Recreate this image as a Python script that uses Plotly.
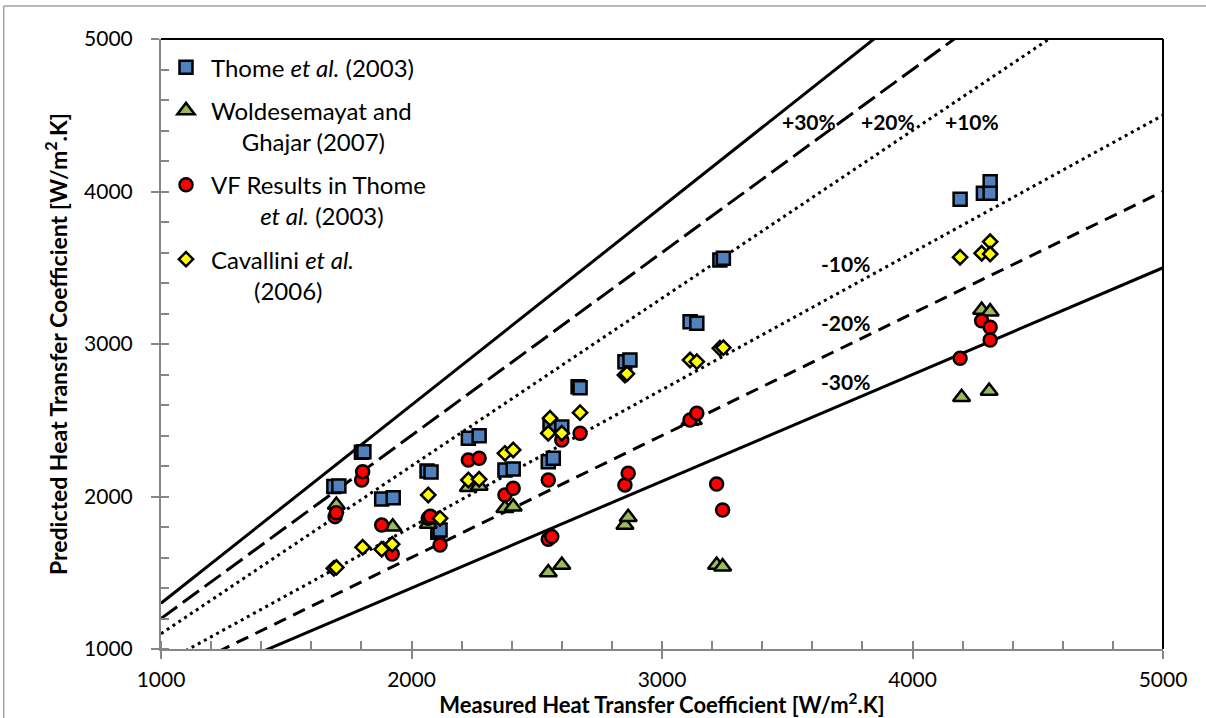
import plotly.graph_objects as go

# Measured vs predicted heat transfer coefficient [W/m2.K]
thome_x = [1690, 1710, 1800, 1810, 1881, 1927, 2062, 2078, 2105, 2114, 2227, 2270,
           2373, 2406, 2546, 2566, 2553, 2600, 2665, 2673, 2852, 2872, 3112, 3139,
           3231, 3245, 4190, 4283, 4310, 4310]
thome_y = [2065, 2069, 2290, 2294, 1984, 1992, 2167, 2160, 1765, 1780, 2382, 2399,
           2174, 2180, 2228, 2251, 2455, 2455, 2720, 2713, 2884, 2895, 3146, 3136,
           3551, 3562, 3949, 3988, 4064, 3988]

wolde_x = [1700, 1925, 2067, 2227, 2270, 2373, 2406, 2546, 2600, 2852, 2865, 3112,
           3125, 3218, 3242, 4196, 4276, 4306, 4310]
wolde_y = [1944, 1802, 1820, 2061, 2069, 1923, 1933, 1501, 1551, 1813, 1864, 2495,
           2500, 1551, 1540, 2651, 3223, 2692, 3212]

vf_x = [1695, 1700, 1801, 1805, 1881, 1923, 2067, 2075, 2114, 2227, 2270, 2373,
        2406, 2546, 2600, 2546, 2560, 2673, 2852, 2865, 3112, 3139, 3218, 3242,
        4190, 4276, 4310, 4310]
vf_y = [1868, 1894, 2108, 2163, 1813, 1623, 1857, 1870, 1682, 2240, 2251, 2010,
        2054, 2108, 2371, 1719, 1737, 2415, 2076, 2152, 2502, 2546, 2082, 1912,
        2906, 3153, 3110, 3026]

cav_x = [1690, 1700, 1805, 1881, 1923, 2067, 2114, 2227, 2270, 2373, 2406, 2546,
         2553, 2600, 2673, 2852, 2860, 3112, 3139, 3231, 3245, 4190, 4276, 4310, 4310]
cav_y = [1529, 1535, 1667, 1654, 1687, 2010, 1857, 2108, 2113, 2283, 2305, 2415,
         2513, 2415, 2550, 2797, 2805, 2895, 2884, 2972, 2976, 3569, 3595, 3671, 3590]

# Error bands: predicted = measured * (1 + band)
bands = [0.30, 0.20, 0.10, -0.10, -0.20, -0.30]
band_labels = ["+30%", "+20%", "+10%", "-10%", "-20%", "-30%"]
band_dash = ["solid", "20px,7px", "3px,4px", "3px,4px", "13px,8px", "solid"]
label_x = [3587, 3902, 4237, 3731, 3731, 3731]
label_y = [4456, 4456, 4456, 3531, 3138, 2751]

x_range = [1000, 5000]
y_range = [1000, 5000]

FONT = "Lato"
NB = "\u00a0"

fig = go.Figure()

for b, d in zip(bands, band_dash):
    fig.add_trace(go.Scatter(
        x=x_range, y=[v * (1 + b) for v in x_range], mode="lines",
        line=dict(color="black", width=3, dash=d),
        showlegend=False, hoverinfo="skip"))

series = [
    ("Thome <i>et al.</i> (2003)", thome_x, thome_y, "square", "#4F81BD", 13),
    ("Woldesemayat and<br>" + NB * 5 + "Ghajar (2007)",
     wolde_x, wolde_y, "triangle-up", "#9BBB59", 15),
    ("VF Results in Thome<br>" + NB * 8 + "<i>et al.</i> (2003)",
     vf_x, vf_y, "circle", "#FF0000", 13),
    ("Cavallini <i>et al.</i><br>" + NB * 7 + "(2006)",
     cav_x, cav_y, "diamond", "#FFFF00", 11),
]
for i, (name, xs, ys, sym, col, sz) in enumerate(series):
    fig.add_trace(go.Scatter(
        x=xs, y=ys, mode="markers", name=name, legendgroup=f"g{i}",
        marker=dict(symbol=sym, color=col, size=sz,
                    line=dict(color="black", width=2.5))))

for t, lx, ly in zip(band_labels, label_x, label_y):
    fig.add_annotation(x=lx, y=ly, text=f"<b>{t}</b>", showarrow=False,
                       font=dict(family=FONT, size=21, color="black"))

axis_common = dict(
    showline=True, linecolor="#868686", linewidth=2,
    showgrid=False, zeroline=False,
    ticks="outside", ticklen=8, tickcolor="#868686", tickwidth=2,
    tickfont=dict(family=FONT, size=21, color="black"),
    minor=dict(ticks="inside", ticklen=8, tickcolor="#868686", tickwidth=1.5, dtick=200),
    dtick=1000,
)

fig.update_xaxes(range=x_range, ticklabelstandoff=3, title=dict(
    text="<b>Measured Heat Transfer Coefficient [W/m<sup>2</sup>.K]</b>",
    font=dict(family=FONT, size=22, color="black"), standoff=4), **axis_common)
fig.update_yaxes(range=y_range, ticklabelstandoff=14, title=dict(
    text="<b>Predicted Heat Transfer Coefficient [W/m<sup>2</sup>.K]</b>",
    font=dict(family=FONT, size=23, color="black"), standoff=10), **axis_common)

# plot-area border on top and right, outer chart frame
fig.add_shape(type="line", xref="paper", yref="paper", x0=0, x1=1, y0=1, y1=1,
              line=dict(color="black", width=2))
fig.add_shape(type="line", xref="paper", yref="paper", x0=1, x1=1, y0=0, y1=1,
              line=dict(color="black", width=2))
fig.add_shape(type="line", xref="paper", yref="paper", x0=-0.157, x1=1.05,
              y0=1.054, y1=1.054, line=dict(color="#A0A0A0", width=1.5))
fig.add_shape(type="line", xref="paper", yref="paper", x0=-0.157, x1=-0.157,
              y0=-0.12, y1=1.054, line=dict(color="#A0A0A0", width=1.5))

fig.update_layout(
    width=1206, height=718,
    margin=dict(l=161, r=43, t=39, b=69, autoexpand=False),
    paper_bgcolor="white", plot_bgcolor="white",
    font=dict(family=FONT, color="black"),
    legend=dict(x=0.0, y=0.99, xanchor="left", yanchor="top", itemwidth=40,
                bgcolor="rgba(0,0,0,0)", valign="top", tracegroupgap=9,
                font=dict(family=FONT, size=24, color="black")),
)

fig.write_html("out.html")
